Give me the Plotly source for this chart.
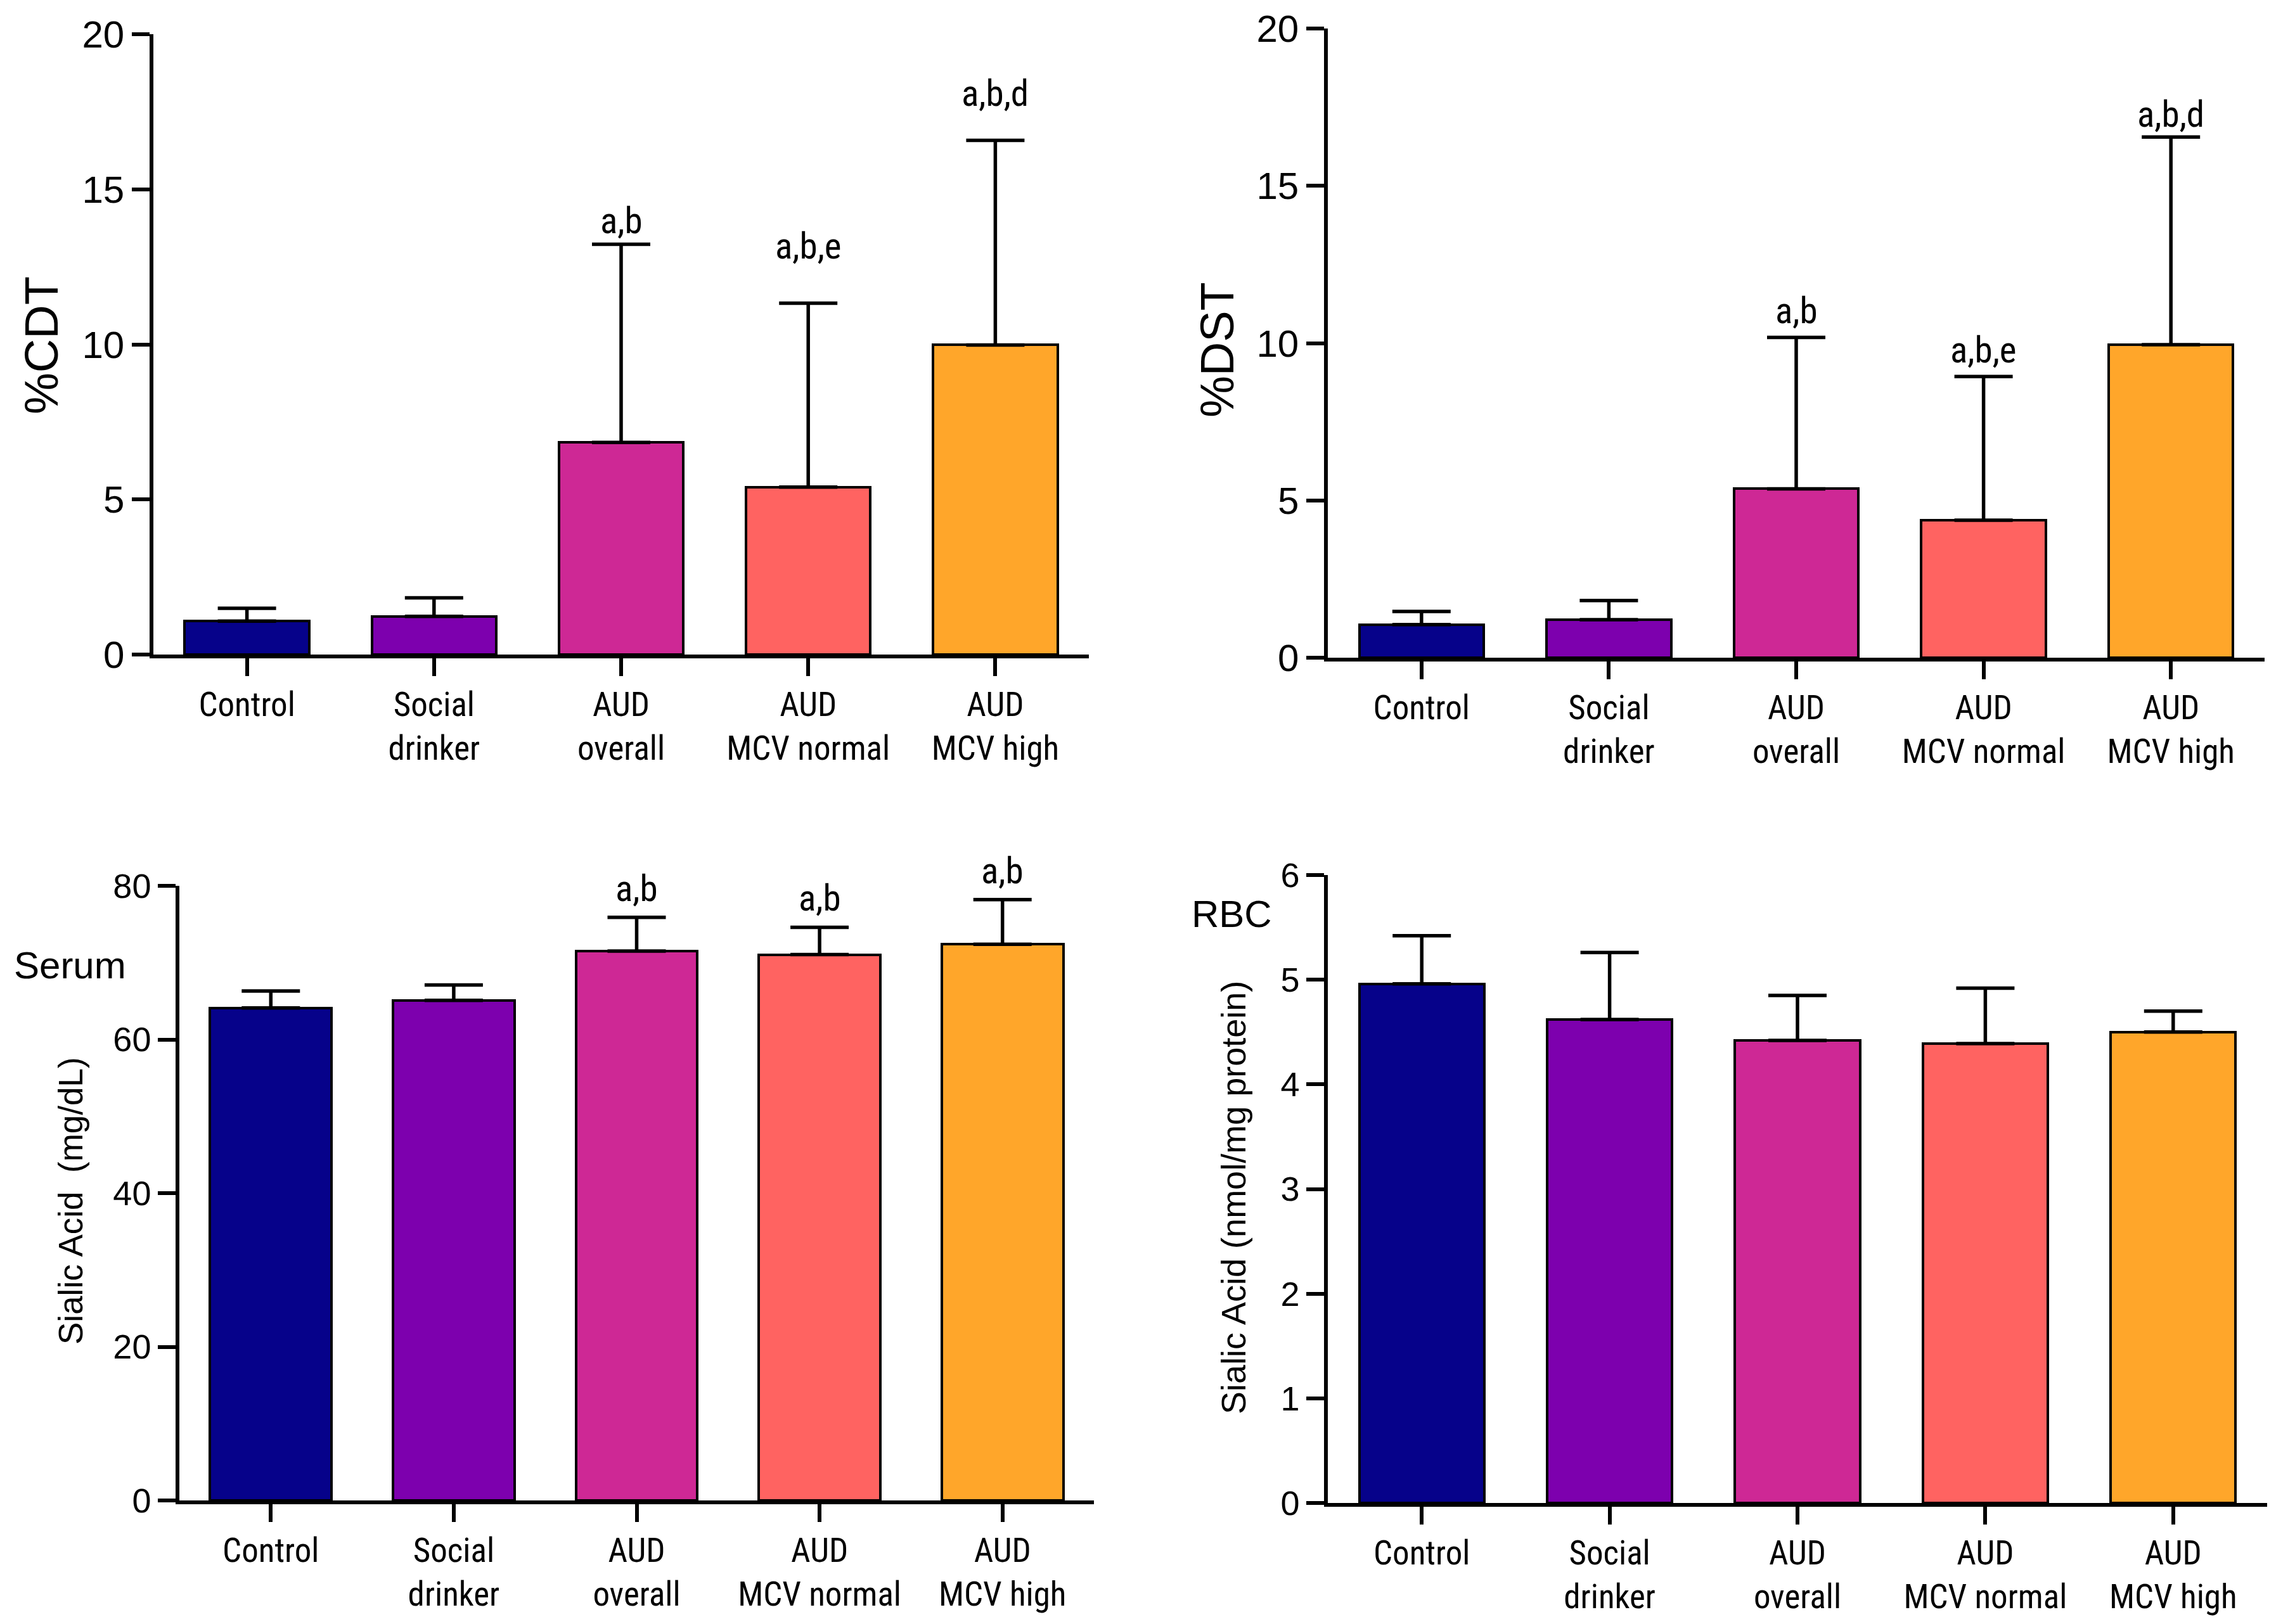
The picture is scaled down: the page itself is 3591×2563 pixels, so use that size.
import plotly.graph_objects as go

# groups shown on every panel
groups = ["Control", "Social<br>drinker", "AUD<br>overall", "AUD<br>MCV normal", "AUD<br>MCV high"]
bar_colors = ["#06028A", "#7D00AE", "#CE2895", "#FF6361", "#FFA62A"]

# %CDT (top left)
cdt_mean = [1.08, 1.23, 6.84, 5.40, 9.98]
cdt_top = [1.49, 1.83, 13.23, 11.33, 16.58]
cdt_label = ["", "", "a,b", "a,b,e", "a,b,d"]
cdt_label_y = [None, None, 13.98, 13.16, 18.1]

# %DST (top right)
dst_mean = [1.05, 1.21, 5.37, 4.37, 9.95]
dst_top = [1.47, 1.82, 10.18, 8.94, 16.55]
dst_label = ["", "", "a,b", "a,b,e", "a,b,d"]
dst_label_y = [None, None, 11.03, 9.77, 17.27]

# serum sialic acid, mg/dL (bottom left); labels sit just above the error bars
serum_mean = [64.1, 65.1, 71.5, 71.05, 72.4]
serum_top = [66.3, 67.1, 75.9, 74.6, 78.2]
serum_label = ["", "", "a,b", "a,b", "a,b"]

# RBC sialic acid, nmol/mg protein (bottom right)
rbc_mean = [4.96, 4.62, 4.42, 4.39, 4.50]
rbc_top = [5.42, 5.26, 4.85, 4.92, 4.70]

W, H = 3591, 2563
PAGE_PAD = 8  # the html body margin pushes the plot this far right/down
NARROW = "Liberation Sans Narrow, Roboto Condensed, DejaVu Sans Condensed, Liberation Sans, sans-serif"
REGULAR = "Liberation Sans, Arial, sans-serif"


def px(x):
    return (x - PAGE_PAD) / W


def py(y):
    return 1 - (y - PAGE_PAD) / H


fig = go.Figure()

panels = [
    (cdt_mean, cdt_top, ""),
    (dst_mean, dst_top, "2"),
    (serum_mean, serum_top, "3"),
    (rbc_mean, rbc_top, "4"),
]

for mean, top, n in panels:
    fig.add_trace(go.Bar(
        x=groups, y=mean, width=0.665,
        marker=dict(color=bar_colors, line=dict(color="black", width=4)),
        error_y=dict(type="data", symmetric=False,
                     array=[t - m for t, m in zip(top, mean)],
                     arrayminus=[0] * len(mean),
                     color="black", thickness=5.5, width=46),
        xaxis="x" + n, yaxis="y" + n, showlegend=False,
    ))

label_font = dict(family=NARROW, size=57, color="black")

# significance letters, top panels: placed at read-off heights
for labels, label_y, n in [(cdt_label, cdt_label_y, ""), (dst_label, dst_label_y, "2")]:
    for g, t, y in zip(groups, labels, label_y):
        if t:
            fig.add_annotation(text=t, x=g, y=y, xref="x" + n, yref="y" + n,
                               showarrow=False, yanchor="middle", font=label_font)

# serum panel: letters just above the error bar caps
for g, t, y in zip(groups, serum_label, serum_top):
    if t:
        fig.add_annotation(text=t, x=g, y=y, xref="x3", yref="y3",
                           showarrow=False, yanchor="bottom", yshift=10, font=label_font)

axis_common = dict(showline=True, linecolor="black", linewidth=5.5,
                   ticks="outside", ticklen=28, tickwidth=5.5, tickcolor="black",
                   showgrid=False, zeroline=False, automargin=False)

# panel frames in pixels: (left, right, top, bottom)
frames = [(242, 1718, 54, 1033), (2095, 3573, 45, 1038),
          (283, 1726, 1398, 2368), (2095, 3577, 1381, 2372)]
yranges = [[0, 20], [0, 20], [0, 80], [0, 6]]
ydticks = [5, 5, 20, 1]
ytick_sizes = [60, 60, 54, 54]

layout = dict(width=W, height=H, margin=dict(l=0, r=0, t=0, b=0, autoexpand=False),
              template="none", plot_bgcolor="white", paper_bgcolor="white", bargap=0)
for i, (l, r, t, b) in enumerate(frames):
    n = "" if i == 0 else str(i + 1)
    layout["xaxis" + n] = dict(axis_common, domain=[px(l), px(r)], type="category",
                               range=[-0.5, 4.5], anchor="y" + n, ticklabelstandoff=0,
                               tickfont=dict(family=NARROW, size=53, color="black"))
    layout["yaxis" + n] = dict(axis_common, domain=[py(b), py(t)], range=yranges[i],
                               dtick=ydticks[i], anchor="x" + n,
                               tickfont=dict(family=REGULAR, size=ytick_sizes[i], color="black"))
fig.update_layout(**layout)

# axis titles and panel tags
titles = [
    ("%CDT", 66, 545, 74),
    ("%DST", 1920, 552, 74),
    ("Sialic Acid  (mg/dL)", 111, 1895, 53),
    ("Sialic Acid (nmol/mg protein)", 1946, 1890, 54),
]
for text, x, y, size in titles:
    fig.add_annotation(text=text, x=px(x), y=py(y), xref="paper", yref="paper",
                       textangle=-90, showarrow=False, xanchor="center", yanchor="middle",
                       font=dict(family=REGULAR, size=size, color="black"))

fig.add_annotation(text="Serum", x=px(20), y=py(1523), xref="paper", yref="paper",
                   showarrow=False, xanchor="left", yanchor="middle",
                   font=dict(family=REGULAR, size=60, color="black"))
fig.add_annotation(text="RBC", x=px(1878), y=py(1442), xref="paper", yref="paper",
                   showarrow=False, xanchor="left", yanchor="middle",
                   font=dict(family=REGULAR, size=60, color="black"))

fig.write_html("out.html")
